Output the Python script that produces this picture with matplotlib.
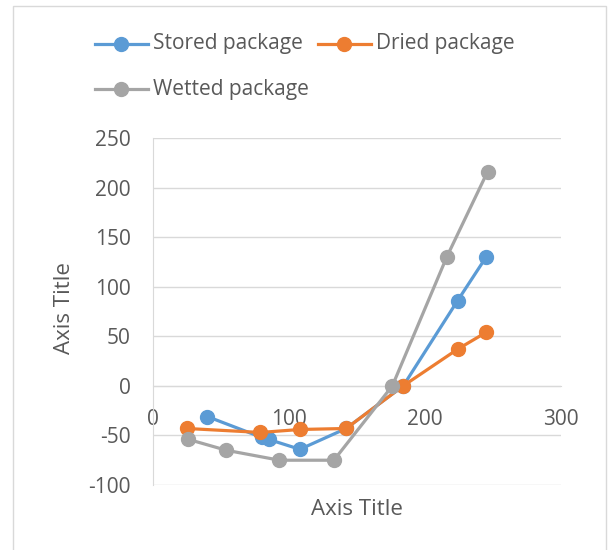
import matplotlib.pyplot as plt
from matplotlib.lines import Line2D
from matplotlib.patches import Rectangle

# series (x, y) read as pairs
stored_x = [40, 80, 85, 108, 142, 184, 224, 245]
stored_y = [-31, -52, -54, -64, -43, 0, 86, 130]

dried_x = [25, 79, 108, 142, 184, 224, 245]
dried_y = [-43, -47, -44, -43, 0, 37, 54]

wetted_x = [26, 54, 93, 133, 176, 216, 246]
wetted_y = [-54, -65, -75, -75, 0, 130, 216]

names = ['Stored package', 'Dried package', 'Wetted package']
colors = ['#5B9BD5', '#ED7D31', '#A5A5A5']
txt = '#595959'
grid = '#D9D9D9'

plt.rcParams['font.family'] = ['Open Sans', 'DejaVu Sans']
plt.rcParams['axes.unicode_minus'] = False

fig = plt.figure(figsize=(6.09, 5.5), dpi=100)
ax = fig.add_axes([153 / 609, 1 - 485 / 550, 408 / 609, 347 / 550])

for xs, ys, c in zip([stored_x, dried_x, wetted_x], [stored_y, dried_y, wetted_y], colors):
    ax.plot(xs, ys, color=c, lw=2.3, marker='o', ms=10, zorder=3)

ax.set_xlim(0, 300)
ax.set_ylim(-100, 250)
ax.set_xticks([0, 100, 200, 300])
ax.set_yticks(range(-100, 251, 50))
ax.grid(axis='y', color=grid, lw=1)
ax.set_axisbelow(True)
for s in ['top', 'right']:
    ax.spines[s].set_visible(False)
ax.spines['bottom'].set_position(('data', 0))
ax.spines['bottom'].set_color(grid)
ax.spines['left'].set_color(grid)
ax.tick_params(length=0, labelsize=15, colors=txt)
ax.tick_params(axis='x', pad=17)
ax.tick_params(axis='y', pad=16)
ax.set_xlabel('Axis Title', fontsize=16, color=txt)
ax.xaxis.set_label_coords(0.5, -0.04)
ax.set_ylabel('Axis Title', fontsize=16, color=txt)
ax.yaxis.set_label_coords(-0.19, 0.51)

# legend drawn by hand in two rows
rows = [(95, 44), (318, 44), (95, 89)]
for (px, py), c, n in zip(rows, colors, names):
    yf = 1 - py / 550
    fig.add_artist(Line2D([px / 609, (px + 53) / 609], [yf, yf], color=c, lw=2.3,
                          transform=fig.transFigure))
    fig.add_artist(Line2D([(px + 26) / 609], [yf], color=c, marker='o', ms=10,
                          transform=fig.transFigure))
    fig.text((px + 58) / 609, yf, n, fontsize=15, color=txt, va='center', ha='left')

# chart frame
fig.add_artist(Rectangle((13 / 609, -0.01), 593 / 609, 1 - 6 / 550 + 0.01, fill=False,
                         ec=grid, lw=1, transform=fig.transFigure))

fig.savefig('out.png', dpi=100)
